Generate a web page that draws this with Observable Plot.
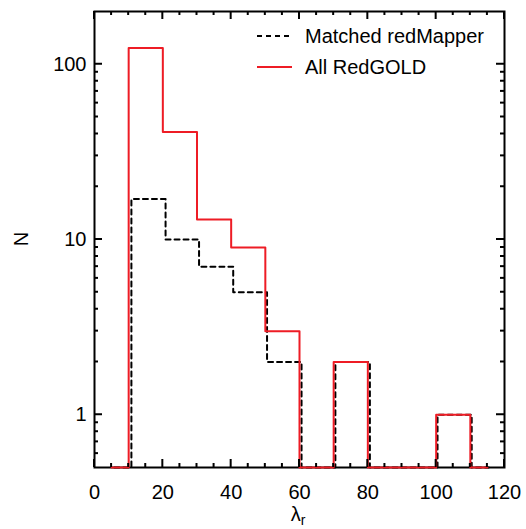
<!DOCTYPE html>
<html><head><meta charset="utf-8">
<script src="https://cdn.jsdelivr.net/npm/d3@7"></script>
<script src="https://cdn.jsdelivr.net/npm/@observablehq/plot@0.6"></script>
<style>body{margin:0;background:#fff}</style>
</head><body><div id="chart"></div>
<script>
// All RedGOLD histogram (bin edges and counts)
const redEdges = [5, 10, 20, 30, 40, 50, 60, 70, 80, 90, 100, 110, 115];
const redCounts = [0, 124, 41, 13, 9, 3, 0, 2, 0, 0, 1, 0];
// Matched redMapper histogram (drawn slightly offset in the original)
const blackEdges = [5.8, 10.8, 20.8, 30.6, 40.6, 50.5, 60.6, 70.5, 80.6, 90.5, 100.4, 110.4, 115.4];
const blackCounts = [0, 17, 10, 7, 5, 2, 0, 2, 0, 0, 1, 0];
// Axes
const xDomain = [0, 120];
const yDomain = [0.5, 200];
const xMajor = [0, 20, 40, 60, 80, 100, 120];
const xMinor = [5, 10, 15, 25, 30, 35, 45, 50, 55, 65, 70, 75, 85, 90, 95, 105, 110, 115];
const yMajor = [1, 10, 100];
const yMinor = [0.6, 0.7, 0.8, 0.9, 2, 3, 4, 5, 6, 7, 8, 9, 20, 30, 40, 50, 60, 70, 80, 90];
const seriesNames = ["Matched redMapper", "All RedGOLD"];
const xLabel = "λ", xLabelSub = "r", yLabel = "N";

function steps(edges, counts) {
  const pts = [];
  counts.forEach((c, i) => {
    const v = c > 0 ? c : yDomain[0];
    pts.push({x: edges[i], y: v}, {x: edges[i + 1], y: v});
  });
  return pts;
}
const redPts = steps(redEdges, redCounts);
const blackPts = steps(blackEdges, blackCounts);

const font = "'Liberation Sans', Arial, Helvetica, sans-serif";
const RED = "#ee1c25";
const W = 526, H = 529, ML = 94, MR = 22, MT = 11, MB = 62;
const MAJ = 8, MIN = 4;

const chart = Plot.plot({
  width: W, height: H,
  marginLeft: ML, marginRight: MR, marginTop: MT, marginBottom: MB,
  style: {fontFamily: font, fontSize: "20px"},
  x: {domain: xDomain},
  y: {type: "log", domain: yDomain},
  marks: [
    Plot.axisX({anchor: "bottom", ticks: xMajor, tickSize: 0, tickPadding: 17, tickFormat: d => String(d), label: null}),
    Plot.axisY({anchor: "left", ticks: yMajor, tickSize: 0, tickPadding: 8, tickFormat: d => String(d), label: null}),
    Plot.frame({stroke: "#000", strokeWidth: 2}),
    Plot.line(blackPts, {x: "x", y: "y", stroke: "#000", strokeWidth: 2, strokeDasharray: "5,4"}),
    Plot.line(redPts, {x: "x", y: "y", stroke: RED, strokeWidth: 2})
  ]
});
document.getElementById("chart").appendChild(chart);

const svg = d3.select(chart);
const sx = chart.scale("x"), sy = chart.scale("y");
const x0 = ML, x1 = W - MR, y0 = MT, y1 = H - MB;
// inward ticks on all four sides, positioned by the plot's own scales
const tg = svg.append("g");
function seg(ax, ay, bx, by) {
  tg.append("line").attr("x1", ax).attr("y1", ay).attr("x2", bx).attr("y2", by)
    .attr("stroke", "#000").attr("stroke-width", 2);
}
function xt(vals, len) {
  vals.forEach(v => {
    const px = sx.apply(v);
    seg(px, y1, px, y1 - len);
    seg(px, y0, px, y0 + len);
  });
}
function yt(vals, len) {
  vals.forEach(v => {
    const py = sy.apply(v);
    seg(x0, py, x0 + len, py);
    seg(x1, py, x1 - len, py);
  });
}
xt(xMajor, MAJ); xt(xMinor, MIN); yt(yMajor, MAJ); yt(yMinor, MIN);

// y label
svg.append("text").attr("transform", "translate(21,239) rotate(-90)")
  .attr("text-anchor", "middle").attr("dominant-baseline", "central")
  .attr("font-family", font).attr("font-size", 20).text(yLabel);
// x label with subscript
const xl = svg.append("text").attr("x", 298).attr("y", 521)
  .attr("text-anchor", "middle").attr("font-family", font).attr("font-size", 20);
xl.append("tspan").text(xLabel);
xl.append("tspan").attr("font-size", 14).attr("dy", 4).text(xLabelSub);
// legend
const lg = svg.append("g").attr("font-family", font).attr("font-size", 20).attr("text-anchor", "start");
lg.append("line").attr("x1", 257).attr("x2", 291).attr("y1", 36).attr("y2", 36)
  .attr("stroke", "#000").attr("stroke-width", 2).attr("stroke-dasharray", "5,4");
lg.append("text").attr("x", 305).attr("y", 43).attr("text-anchor", "start").text(seriesNames[0]);
lg.append("line").attr("x1", 257).attr("x2", 292).attr("y1", 67).attr("y2", 67)
  .attr("stroke", RED).attr("stroke-width", 2);
lg.append("text").attr("x", 305).attr("y", 74).attr("text-anchor", "start").text(seriesNames[1]);
</script>
</body></html>
